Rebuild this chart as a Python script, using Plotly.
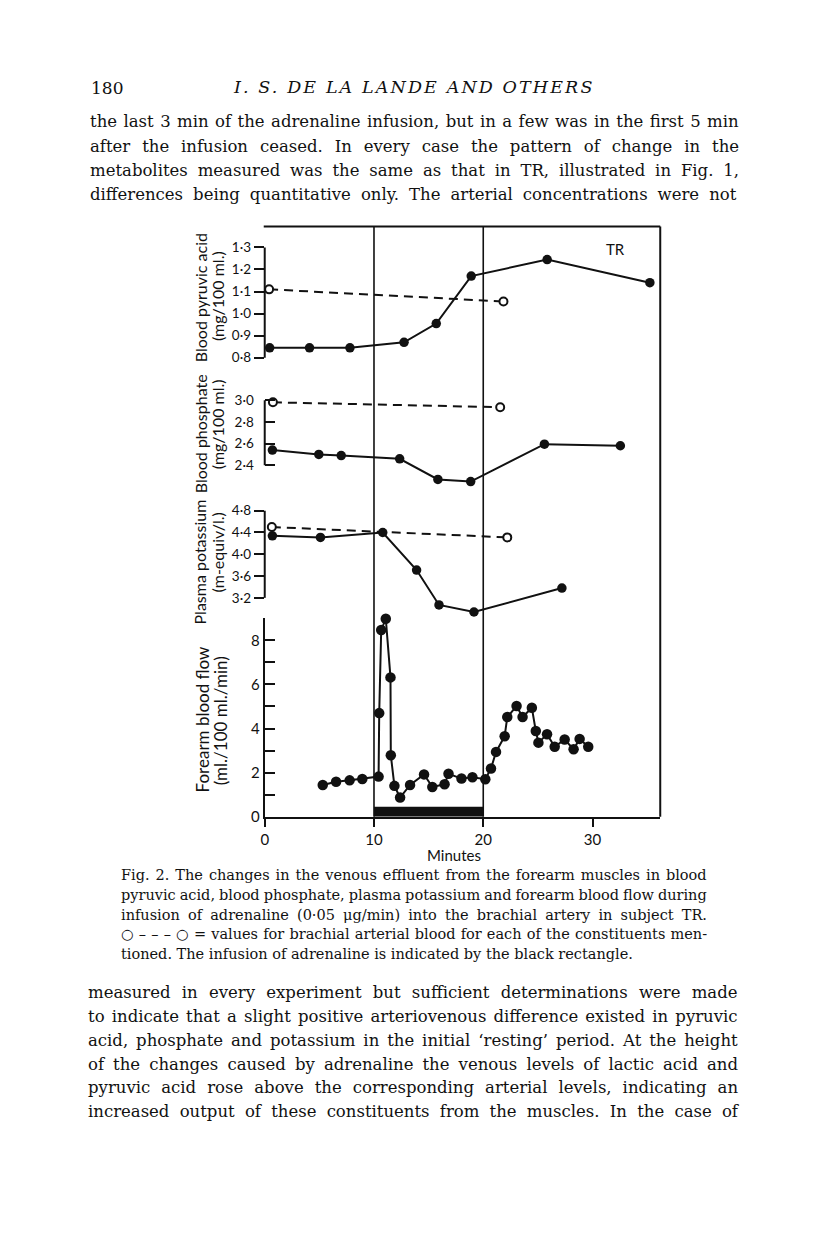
import glob
import struct
import plotly.graph_objects as go

# ---------------- data ----------------
minutes_ticks = [0, 10, 20, 30]

pyr_ven_x = [0.45, 4.1, 7.8, 12.75, 15.7, 18.9, 25.85, 35.25]
pyr_ven_y = [0.845, 0.845, 0.845, 0.87, 0.955, 1.17, 1.245, 1.14]
pyr_art_x = [0.4, 21.85]
pyr_art_y = [1.11, 1.055]
pyr_ticks = [0.8, 0.9, 1.0, 1.1, 1.2, 1.3]
pyr_ticktext = ["0·8", "0·9", "1·0", "1·1", "1·2", "1·3"]

pho_ven_x = [0.7, 4.95, 7.0, 12.35, 15.85, 18.85, 25.6, 32.55]
pho_ven_y = [2.54, 2.50, 2.49, 2.46, 2.27, 2.25, 2.595, 2.58]
pho_art_x = [0.75, 21.55]
pho_art_y = [2.98, 2.935]
pho_ticks = [2.4, 2.6, 2.8, 3.0]
pho_ticktext = ["2·4", "2·6", "2·8", "3·0"]

pot_ven_x = [0.7, 5.1, 10.8, 13.9, 15.95, 19.15, 27.2]
pot_ven_y = [4.34, 4.31, 4.40, 3.71, 3.07, 2.94, 3.38]
pot_art_x = [0.65, 22.2]
pot_art_y = [4.50, 4.31]
pot_ticks = [3.2, 3.6, 4.0, 4.4, 4.8]
pot_ticktext = ["3·2", "3·6", "4·0", "4·4", "4·8"]

flow_x = [5.31, 6.53, 7.77, 8.93, 10.42, 10.48, 10.66, 11.08, 11.51, 11.54,
          11.87, 12.39, 13.30, 14.58, 15.34, 16.46, 16.82, 18.01, 19.01, 20.19,
          20.71, 21.17, 21.96, 22.20, 23.05, 23.60, 24.45, 24.81, 25.05, 25.84,
          26.54, 27.45, 28.27, 28.82, 29.61]
flow_y = [1.44, 1.59, 1.65, 1.71, 1.82, 4.70, 8.47, 8.98, 6.32, 2.79,
          1.40, 0.87, 1.44, 1.92, 1.35, 1.47, 1.95, 1.73, 1.79, 1.70,
          2.19, 2.94, 3.65, 4.52, 5.02, 4.52, 4.94, 3.89, 3.36, 3.74,
          3.17, 3.50, 3.06, 3.53, 3.17]
flow_ticks = [0, 1, 2, 3, 4, 5, 6, 7, 8, 9]
flow_ticktext = ["0", "", "2", "", "4", "", "6", "", "8", ""]

infusion_start = 10
infusion_end = 20
infusion_bar_height = 0.45

header_page = "180"
header_title = "I. S. DE LA LANDE AND OTHERS"
para_top = [
    "the last 3 min of the adrenaline infusion, but in a few was in the first 5 min",
    "after the infusion ceased. In every case the pattern of change in the",
    "metabolites measured was the same as that in TR, illustrated in Fig. 1,",
    "differences being quantitative only. The arterial concentrations were not",
]
caption = [
    "Fig. 2. The changes in the venous effluent from the forearm muscles in blood",
    "pyruvic acid, blood phosphate, plasma potassium and forearm blood flow during",
    "infusion of adrenaline (0·05 μg/min) into the brachial artery in subject TR.",
    "○ – – – ○ = values for brachial arterial blood for each of the constituents men-",
    "tioned. The infusion of adrenaline is indicated by the black rectangle.",
]
para_bottom = [
    "measured in every experiment but sufficient determinations were made",
    "to indicate that a slight positive arteriovenous difference existed in pyruvic",
    "acid, phosphate and potassium in the initial ‘resting’ period. At the height",
    "of the changes caused by adrenaline the venous levels of lactic acid and",
    "pyruvic acid rose above the corresponding arterial levels, indicating an",
    "increased output of these constituents from the muscles. In the case of",
]

# ---------------- layout helpers ----------------
PAGE_W, PAGE_H = 816, 1249
OFF = 8                      # browser body margin
W, H = PAGE_W - 2 * OFF, PAGE_H - 2 * OFF
INK = "#111111"
SANS = "Lato"
SERIF = "DejaVu Serif"


def fy(p):
    return 1 - (p - OFF) / H


def fx(p):
    return (p - OFF) / W


def yrange(v_a, p_a, v_b, p_b, top, bot):
    k = (v_a - v_b) / (p_b - p_a)
    return [v_a - (bot - p_a) * k, v_a - (top - p_a) * k]


def load_measure(fname):
    try:
        paths = glob.glob("/usr/share/fonts/**/" + fname, recursive=True)
        paths += glob.glob("/usr/local/share/fonts/**/" + fname, recursive=True)
        if not paths:
            return None
        data = open(paths[0], "rb").read()
        nt = struct.unpack(">H", data[4:6])[0]
        tabs = {}
        for i in range(nt):
            tag, _, off, ln = struct.unpack(">4sIII", data[12 + 16 * i:28 + 16 * i])
            tabs[tag.decode("latin1")] = off
        upem = struct.unpack(">H", data[tabs["head"] + 18:tabs["head"] + 20])[0]
        nhm = struct.unpack(">H", data[tabs["hhea"] + 34:tabs["hhea"] + 36])[0]
        hm = tabs["hmtx"]
        adv = [struct.unpack(">H", data[hm + 4 * i:hm + 4 * i + 2])[0] for i in range(nhm)]
        cm = tabs["cmap"]
        n = struct.unpack(">H", data[cm + 2:cm + 4])[0]
        sub = None
        for i in range(n):
            pid, eid, off = struct.unpack(">HHI", data[cm + 4 + 8 * i:cm + 12 + 8 * i])
            fmt = struct.unpack(">H", data[cm + off:cm + off + 2])[0]
            if pid == 3 and eid == 1 and fmt == 4:
                sub = cm + off
        if sub is None:
            return None
        seg2 = struct.unpack(">H", data[sub + 6:sub + 8])[0]
        seg = seg2 // 2
        ends = struct.unpack(">%dH" % seg, data[sub + 14:sub + 14 + seg2])
        starts = struct.unpack(">%dH" % seg, data[sub + 16 + seg2:sub + 16 + 2 * seg2])
        deltas = struct.unpack(">%dh" % seg, data[sub + 16 + 2 * seg2:sub + 16 + 3 * seg2])
        rpos = sub + 16 + 3 * seg2
        roffs = struct.unpack(">%dH" % seg, data[rpos:rpos + seg2])

        def gid(c):
            for i in range(seg):
                if ends[i] >= c:
                    if starts[i] > c:
                        return 0
                    if roffs[i] == 0:
                        return (c + deltas[i]) & 0xFFFF
                    a = rpos + 2 * i + roffs[i] + 2 * (c - starts[i])
                    g = struct.unpack(">H", data[a:a + 2])[0]
                    return (g + deltas[i]) & 0xFFFF if g else 0
            return 0

        def measure(s, size):
            tot = 0
            for ch in s:
                g = gid(ord(ch))
                tot += adv[min(g, nhm - 1)]
            return tot * size / upem
        return measure
    except Exception:
        return None


measure = load_measure("DejaVuSerif.ttf")

fig = go.Figure()

# ---------------- axes geometry (page pixels) ----------------
X0, X1 = 262, 659.5
XMAX = 36.2
FLOW_TOP, FLOW_BOT = 622.3, 822
POT_DOM = (500, 618)
PHO_DOM = (385, 490)
PYR_DOM = (236, 372)
pot_range = yrange(4.8, 514, 3.2, 601.7, *POT_DOM)
pho_range = yrange(3.0, 402.7, 2.4, 468.3, *PHO_DOM)
pyr_range = yrange(1.3, 249, 0.8, 360, *PYR_DOM)

solid = dict(color=INK, width=2)
dashed = dict(color=INK, width=2, dash="9px,6px")
filled = dict(symbol="circle", size=9.5, color=INK)
opened = dict(symbol="circle", size=8, color="white", line=dict(color=INK, width=2))

series = [
    (pyr_art_x, pyr_art_y, "y4", dashed, opened),
    (pho_art_x, pho_art_y, "y3", dashed, opened),
    (pot_art_x, pot_art_y, "y2", dashed, opened),
    (pyr_ven_x, pyr_ven_y, "y4", solid, filled),
    (pho_ven_x, pho_ven_y, "y3", solid, filled),
    (pot_ven_x, pot_ven_y, "y2", solid, filled),
]
for xs, ys, ya, ln, mk in series:
    fig.add_trace(go.Scatter(x=xs, y=ys, xaxis="x", yaxis=ya, mode="lines+markers",
                             line=ln, marker=mk, cliponaxis=False, hoverinfo="skip"))

fig.add_trace(go.Scatter(x=flow_x, y=flow_y, xaxis="x", yaxis="y", mode="lines+markers",
                         line=dict(color=INK, width=2),
                         marker=dict(symbol="circle", size=10.5, color=INK),
                         cliponaxis=False, hoverinfo="skip"))

# ---------------- shapes: frame, infusion lines, bar, axis spines ----------------
shapes = []
shapes.append(dict(type="line", xref="paper", yref="paper", x0=fx(X0 - 1), x1=fx(X1),
                   y0=fy(228), y1=fy(228), line=dict(color=INK, width=2)))
shapes.append(dict(type="line", xref="paper", yref="paper", x0=fx(X1), x1=fx(X1),
                   y0=fy(228), y1=fy(FLOW_BOT), line=dict(color=INK, width=2)))
for xv in (infusion_start, infusion_end):
    shapes.append(dict(type="line", xref="x", yref="paper", x0=xv, x1=xv,
                       y0=fy(FLOW_BOT), y1=fy(228), line=dict(color=INK, width=1.6),
                       layer="below"))
shapes.append(dict(type="rect", xref="x", yref="y", x0=infusion_start, x1=infusion_end,
                   y0=0, y1=infusion_bar_height, fillcolor=INK, line=dict(width=0)))
for ya, tv in (("y2", pot_ticks), ("y3", pho_ticks), ("y4", pyr_ticks)):
    shapes.append(dict(type="line", xref="x domain", yref=ya, x0=0, x1=0,
                       y0=min(tv), y1=max(tv), line=dict(color=INK, width=2)))
fig.update_layout(shapes=shapes)

tickfont_small = dict(family=SANS, size=13.5, color=INK)
tickfont_big = dict(family=SANS, size=15, color=INK)
common_y = dict(anchor="x", showgrid=False, zeroline=False, tickwidth=2, tickcolor=INK,
                ticklen=10)

fig.update_layout(
    width=W, height=H, margin=dict(l=0, r=0, t=0, b=0),
    paper_bgcolor="white", plot_bgcolor="rgba(0,0,0,0)",
    showlegend=False,
    font=dict(family=SANS, color=INK),
    xaxis=dict(domain=[fx(X0), fx(X1)], range=[0, XMAX], anchor="y", showline=True,
               linecolor=INK, linewidth=2, ticks="outside", ticklen=8, tickwidth=2,
               tickcolor=INK, tickvals=minutes_ticks,
               ticktext=[str(v) for v in minutes_ticks], tickfont=tickfont_big,
               showgrid=False, zeroline=False),
    yaxis=dict(domain=[fy(FLOW_BOT), fy(FLOW_TOP)], range=[0, 9], showline=True,
               linecolor=INK, linewidth=2, ticks="inside", tickvals=flow_ticks,
               ticktext=flow_ticktext, tickfont=tickfont_big, **common_y),
    yaxis2=dict(domain=[fy(POT_DOM[1]), fy(POT_DOM[0])], range=pot_range, showline=False,
                ticks="outside", tickvals=pot_ticks, ticktext=pot_ticktext,
                tickfont=tickfont_small, **common_y),
    yaxis3=dict(domain=[fy(PHO_DOM[1]), fy(PHO_DOM[0])], range=pho_range, showline=False,
                ticks="inside", tickvals=pho_ticks, ticktext=pho_ticktext,
                tickfont=tickfont_small, ticklabelstandoff=10, **common_y),
    yaxis4=dict(domain=[fy(PYR_DOM[1]), fy(PYR_DOM[0])], range=pyr_range, showline=False,
                ticks="outside", tickvals=pyr_ticks, ticktext=pyr_ticktext,
                tickfont=tickfont_small, **common_y),
)


# ---------------- figure annotations ----------------
def label(text, x, y, size, angle=0):
    fig.add_annotation(text=text, x=fx(x), y=fy(y), xref="paper", yref="paper",
                       xanchor="center", yanchor="middle", textangle=angle, showarrow=False,
                       font=dict(family=SANS, size=size, color=INK))


label("Blood pyruvic acid", 197, 300, 16, -90)
label("(mg/100 ml.)", 214, 298, 16, -90)
label("Blood phosphate", 197, 437, 16, -90)
label("(mg/100 ml.)", 214, 427, 16, -90)
label("Plasma potassium", 196, 566, 16, -90)
label("(m-equiv/l.)", 214, 556, 16, -90)
label("Forearm blood flow", 199, 724, 17, -90)
label("(ml./100 ml./min)", 217, 725, 17, -90)
label("Minutes", 452, 861, 15)
label("TR", 615, 251, 15)


# ---------------- page text ----------------
TXT_SHIFT = -3


def text_line(text, left, right, baseline, size, justify=True):
    style = ""
    if justify and measure is not None:
        nat = measure(text, size)
        n = text.count(" ")
        if n:
            style = "word-spacing:%.2fpx" % ((right - left - nat) / n)
    t = '<span style="%s">%s</span>' % (style, text) if style else text
    fig.add_annotation(text=t, x=fx(left + TXT_SHIFT), y=fy(baseline - 0.346 * size),
                       xref="paper", yref="paper", xanchor="left", yanchor="middle",
                       showarrow=False, borderpad=0,
                       font=dict(family=SERIF, size=size, color=INK))


BODY = 16.5
CAP = 14.5
HDR = 17.5
text_line(header_page, 89, 0, 94, 17, justify=False)
hdr_style = ""
if measure is not None:
    nat = measure(header_title, HDR)
    hdr_style = "letter-spacing:%.2fpx" % ((359 - nat) / (len(header_title) - 1))
fig.add_annotation(text='<i><span style="%s">%s</span></i>' % (hdr_style, header_title),
                   x=fx(412), y=fy(94 - 0.346 * HDR), xref="paper", yref="paper",
                   xanchor="center", yanchor="middle", showarrow=False, borderpad=0,
                   font=dict(family=SERIF, size=HDR, color=INK))

for i, line in enumerate(para_top):
    text_line(line, 88, 737, 128.3 + 24.4 * i, BODY)
for i, line in enumerate(caption):
    text_line(line, 120, 706, 886 + 19.8 * i, CAP, justify=(i < len(caption) - 1))
for i, line in enumerate(para_bottom):
    text_line(line, 86, 736, 1005 + 23.9 * i, BODY)

fig.write_html("out.html")
